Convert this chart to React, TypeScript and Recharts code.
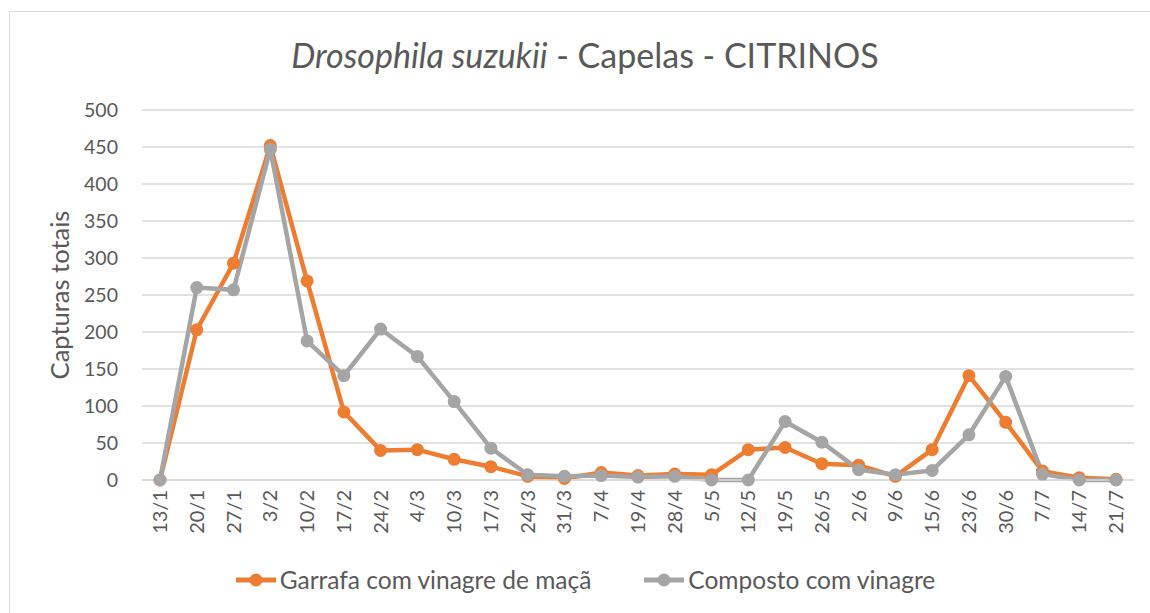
import React from "react"
import { LineChart, Line, XAxis, YAxis, CartesianGrid } from "recharts"

const dates = [
  "13/1", "20/1", "27/1", "3/2", "10/2", "17/2", "24/2", "4/3", "10/3", "17/3",
  "24/3", "31/3", "7/4", "19/4", "28/4", "5/5", "12/5", "19/5", "26/5", "2/6",
  "9/6", "15/6", "23/6", "30/6", "7/7", "14/7", "21/7",
]

// Garrafa com vinagre de maçã
const garrafa = [
  0, 203, 293, 452, 269, 92, 40, 41, 28, 18,
  5, 2, 10, 6, 8, 7, 41, 44, 22, 20,
  5, 41, 141, 78, 12, 3, 1,
]

// Composto com vinagre
const composto = [
  0, 260, 257, 447, 188, 141, 204, 167, 106, 43,
  7, 5, 6, 4, 5, 0, 0, 79, 51, 14,
  7, 13, 61, 140, 8, 0, 0,
]

const yTicks = [0, 50, 100, 150, 200, 250, 300, 350, 400, 450, 500]

const ORANGE = "#ED7D31"
const GRAY = "#A5A5A5"
const TEXT = "#595959"
const FONT = "Lato, 'Open Sans', sans-serif"

const data = dates.map((d, i) => ({ date: d, garrafa: garrafa[i], composto: composto[i] }))

function XTick({ x, y, payload }: any) {
  return (
    <g transform={`translate(${x},${y})`}>
      <text
        transform="rotate(-90)"
        x={-8}
        y={0}
        dy="0.35em"
        textAnchor="end"
        fill={TEXT}
        fontSize={20}
        fontFamily={FONT}
      >
        {payload.value}
      </text>
    </g>
  )
}

function LegendItem({ color, label }: { color: string; label: string }) {
  return (
    <div style={{ display: "flex", alignItems: "center" }}>
      <svg width={42} height={18}>
        <line x1={1} y1={9} x2={41} y2={9} stroke={color} strokeWidth={5} />
        <circle cx={21} cy={9} r={6.5} fill={color} />
      </svg>
      <span style={{ marginLeft: 3, fontSize: 24.5, color: TEXT }}>{label}</span>
    </div>
  )
}

export default function App() {
  return (
    <div
      style={{
        position: "fixed",
        left: 9,
        top: 11,
        width: 1150,
        height: 610,
        border: "1px solid #d9d9d9",
        background: "#fff",
        fontFamily: FONT,
        overflow: "hidden",
      }}
    >
      <div
        style={{
          position: "absolute",
          top: 22,
          left: 0,
          width: 1150,
          textAlign: "center",
          fontSize: 34,
          color: TEXT,
        }}
      >
        <i>Drosophila suzukii</i> - Capelas - CITRINOS
      </div>
      <div
        style={{
          position: "absolute",
          left: 49,
          top: 283,
          transform: "translate(-50%, -50%) rotate(-90deg)",
          fontSize: 25.5,
          color: TEXT,
          whiteSpace: "nowrap",
        }}
      >
        Capturas totais
      </div>
      <LineChart
        width={1140}
        height={600}
        data={data}
        margin={{ top: 98, right: 16, bottom: 72, left: 0 }}
      >
        <CartesianGrid vertical={false} stroke="#d9d9d9" strokeWidth={1.3} />
        <XAxis
          dataKey="date"
          interval={0}
          padding={{ left: 18, right: 18 }}
          height={60}
          tick={<XTick />}
          tickLine={false}
          tickSize={0}
          axisLine={{ stroke: "#d9d9d9", strokeWidth: 1.3 }}
        />
        <YAxis
          width={132}
          domain={[0, 500]}
          ticks={yTicks}
          interval={0}
          tickLine={false}
          tickSize={0}
          tickMargin={24}
          axisLine={false}
          tick={{ fill: TEXT, fontSize: 19.5, fontFamily: FONT }}
        />
        <Line
          dataKey="garrafa"
          stroke={ORANGE}
          strokeWidth={4.5}
          dot={{ r: 6.5, fill: ORANGE, stroke: ORANGE, strokeWidth: 0 }}
          isAnimationActive={false}
        />
        <Line
          dataKey="composto"
          stroke={GRAY}
          strokeWidth={4.5}
          dot={{ r: 6.5, fill: GRAY, stroke: GRAY, strokeWidth: 0 }}
          isAnimationActive={false}
        />
      </LineChart>
      <div
        style={{
          position: "absolute",
          top: 553,
          left: 0,
          width: 1150,
          display: "flex",
          justifyContent: "center",
          gap: 52,
        }}
      >
        <LegendItem color={ORANGE} label="Garrafa com vinagre de maçã" />
        <LegendItem color={GRAY} label="Composto com vinagre" />
      </div>
    </div>
  )
}
